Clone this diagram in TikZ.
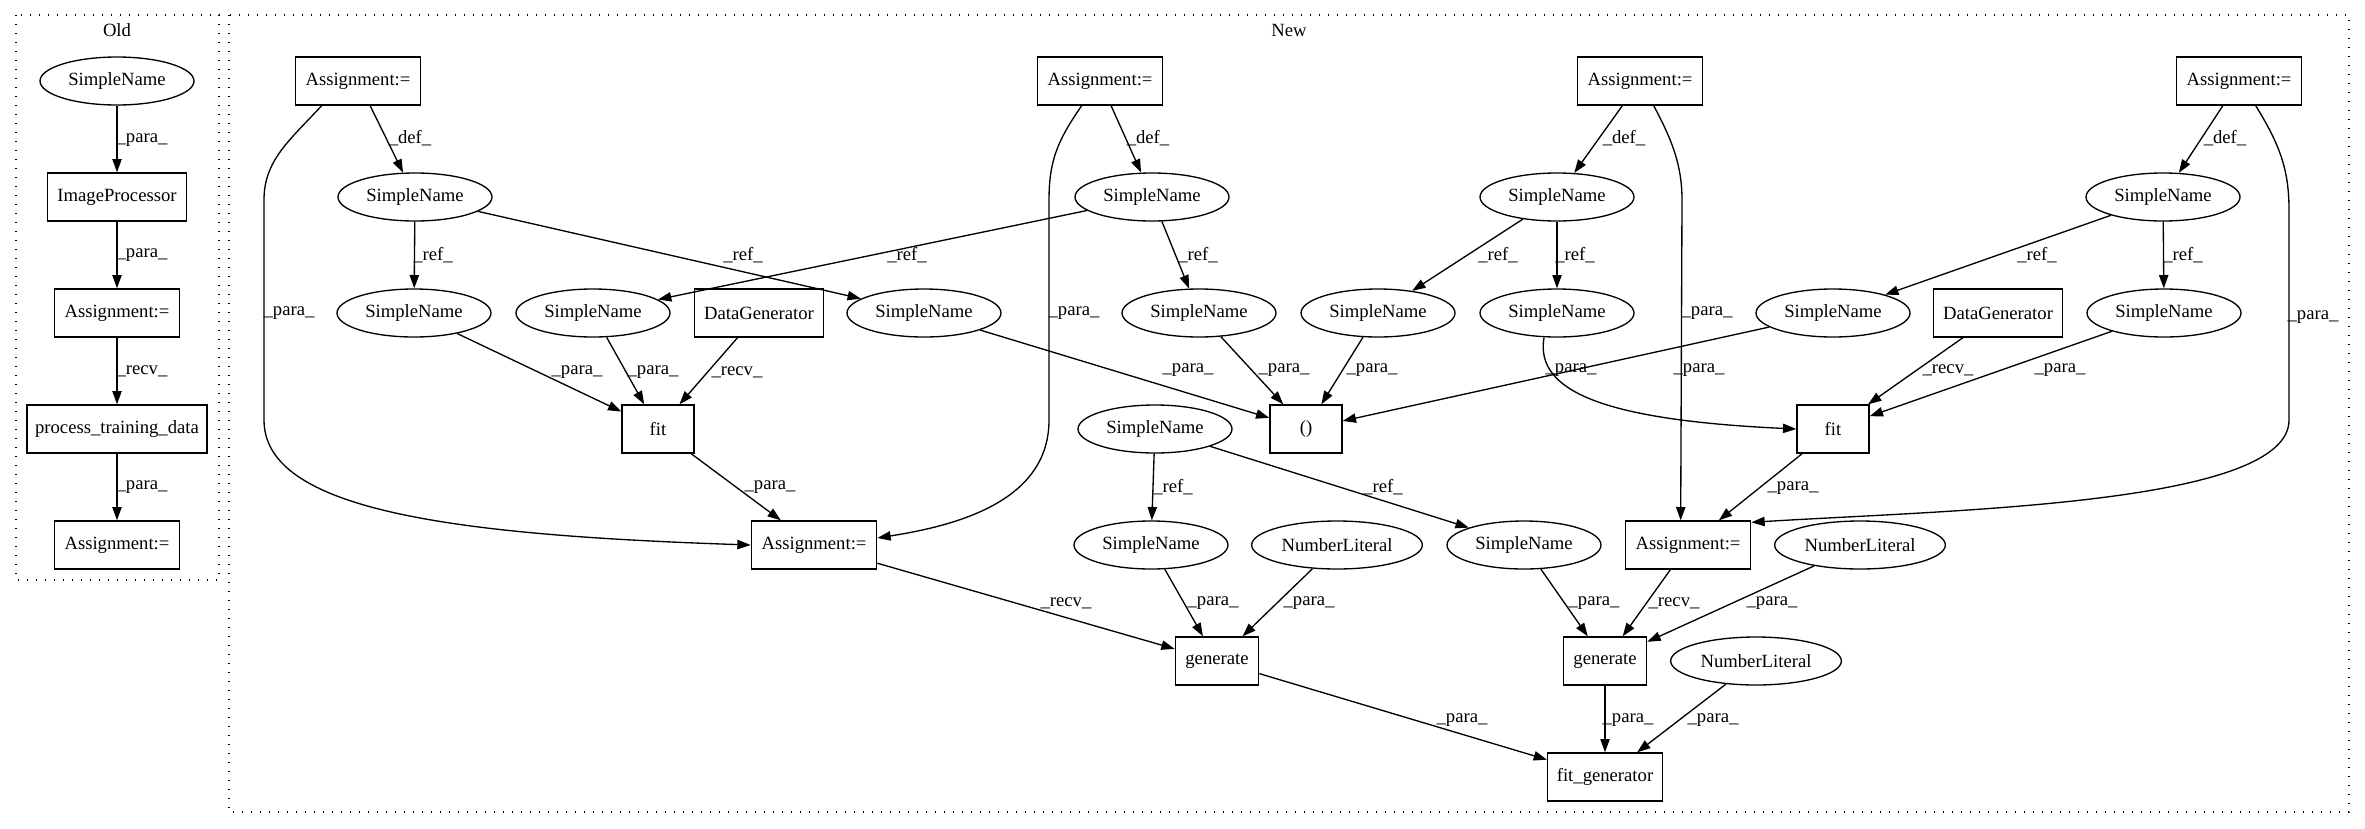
\documentclass[tikz,border=0pt]{standalone}
\usepackage{fontspec}
\setmainfont{Liberation Serif}
\usetikzlibrary{shapes.geometric,arrows.meta}
\begin{document}
\begin{tikzpicture}[x=0.75pt,y=-0.75pt,
  font=\fontsize{14}{16}\selectfont,
  box/.style={draw, rectangle, minimum height=36pt, inner sep=0pt, line width=1pt},
  ell/.style={draw, ellipse, minimum width=115.5pt, minimum height=36pt, inner sep=0pt, line width=1pt},
  nlit/.style={ell, minimum width=128pt},
  arr/.style={-{Triangle[length=10pt,width=7pt]}, line width=1pt},
  lbl/.style={inner sep=0pt},
  cluster/.style={draw, line width=1pt, dash pattern=on 1pt off 5.75pt}]
\useasboundingbox (0,0) rectangle (2365,828);
% clusters
\draw[cluster] (16,15) rectangle (219,580);
\draw[cluster] (229,15) rectangle (2349,812);
\node[lbl] (tOld) at (117,30) {Old};
\node[lbl] (tNew) at (1289,30) {New};
% Old nodes
\node[ell] (oSN) at (117,81) {SimpleName};
\node[box, minimum width=104pt] (oIP) at (117,197) {ImageProcessor};
\node[box, minimum width=94pt] (oA1) at (117,313) {Assignment:=};
\node[box, minimum width=135pt] (oPTD) at (117,429) {process\_training\_data};
\node[box, minimum width=94pt] (oA2) at (117,545) {Assignment:=};
% New nodes
\node[box, minimum width=94pt] (A1) at (358,81) {Assignment:=};
\node[box, minimum width=94pt] (A2) at (1100,81) {Assignment:=};
\node[box, minimum width=94pt] (A3) at (1640,81) {Assignment:=};
\node[box, minimum width=94pt] (A4) at (2239,81) {Assignment:=};
\node[ell] (S1) at (415,197) {SimpleName};
\node[ell] (S2) at (1152,197) {SimpleName};
\node[ell] (S3) at (1557,197) {SimpleName};
\node[ell] (S4) at (2163,197) {SimpleName};
\node[ell] (S1a) at (414,313) {SimpleName};
\node[ell] (S1b) at (593,313) {SimpleName};
\node[box, minimum width=96.5pt] (DG1) at (759,313) {DataGenerator};
\node[ell] (S1c) at (924,313) {SimpleName};
\node[ell] (S2a) at (1199,313) {SimpleName};
\node[ell] (S3a) at (1378,313) {SimpleName};
\node[ell] (S3b) at (1557,313) {SimpleName};
\node[ell] (S4a) at (1833,313) {SimpleName};
\node[box, minimum width=96.5pt] (DG2) at (1998,313) {DataGenerator};
\node[ell] (S4b) at (2164,313) {SimpleName};
\node[box, minimum width=54pt] (fit1) at (658,429) {fit};
\node[ell] (S5) at (1155,429) {SimpleName};
\node[box, minimum width=54pt] (unit) at (1306,429) {()};
\node[box, minimum width=54pt] (fit2) at (1833,429) {fit};
\node[box, minimum width=94pt] (AL) at (814,545) {Assignment:=};
\node[ell] (S5a) at (1151,545) {SimpleName};
\node[nlit] (NL1) at (1337,545) {NumberLiteral};
\node[ell] (S5b) at (1524,545) {SimpleName};
\node[box, minimum width=94pt] (AR) at (1688,545) {Assignment:=};
\node[nlit] (NL2) at (1860,545) {NumberLiteral};
\node[box, minimum width=62.5pt] (gen1) at (1217,661) {generate};
\node[box, minimum width=62.5pt] (gen2) at (1605,661) {generate};
\node[nlit] (NL3) at (1756,661) {NumberLiteral};
\node[box, minimum width=86pt] (FG) at (1605,777) {fit\_generator};
% Old edges
\draw[arr] (oSN) -- (oIP);
\draw[arr] (oIP) -- (oA1);
\draw[arr] (oA1) -- (oPTD);
\draw[arr] (oPTD) -- (oA2);
\node[lbl] (l1) at (142,140) {\_para\_};
\node[lbl] (l2) at (142,255) {\_para\_};
\node[lbl] (l3) at (142,371) {\_recv\_};
\node[lbl] (l4) at (142,487) {\_para\_};
% New edges: def
\draw[arr] (A1) -- (S1);
\draw[arr] (A2) -- (S2);
\draw[arr] (A3) -- (S3);
\draw[arr] (A4) -- (S4);
\node[lbl] (d1) at (410,138) {\_def\_};
\node[lbl] (d2) at (1148,138) {\_def\_};
\node[lbl] (d3) at (1624,138) {\_def\_};
\node[lbl] (d4) at (2225,138) {\_def\_};
% ref
\draw[arr] (S1) -- (S1a);
\draw[arr] (S1) -- (S1c);
\draw[arr] (S2) -- (S1b);
\draw[arr] (S2) -- (S2a);
\draw[arr] (S3) -- (S3a);
\draw[arr] (S3) -- (S3b);
\draw[arr] (S4) -- (S4a);
\draw[arr] (S4) -- (S4b);
\draw[arr] (S5) -- (S5a);
\draw[arr] (S5) -- (S5b);
\node[lbl] (r1) at (433,255) {\_ref\_};
\node[lbl] (r2) at (743,255) {\_ref\_};
\node[lbl] (r3) at (907,255) {\_ref\_};
\node[lbl] (r4) at (1198,255) {\_ref\_};
\node[lbl] (r5) at (1498,255) {\_ref\_};
\node[lbl] (r6) at (1575,255) {\_ref\_};
\node[lbl] (r7) at (2037,255) {\_ref\_};
\node[lbl] (r8) at (2183,255) {\_ref\_};
\node[lbl] (r9) at (1173,487) {\_ref\_};
\node[lbl] (r10) at (1383,487) {\_ref\_};
% long para curves
\draw[arr] ([xshift=20.25pt]A1.south west) .. controls (290,140) and (264,160) .. (264,200)
  -- (264,420) .. controls (264,510) and (450,535) .. (AL.west);
\draw[arr] ([xshift=33.75pt]A2.south west) .. controls (1058,140) and (1049,160) .. (1049,200)
  -- (1049,420) .. controls (1049,500) and (960,525) .. ([yshift=5.25pt]AL.east);
\draw[arr] ([xshift=57.75pt]A3.south west) .. controls (1672,140) and (1682,165) .. (1682,200)
  -- ([xshift=42pt]AR.north west);
\draw[arr] ([xshift=60pt]A4.south west) .. controls (2280,145) and (2289,170) .. (2289,210)
  -- (2289,420) .. controls (2289,505) and (1950,510) .. ([yshift=-1.5pt]AR.north east);
\draw[arr] ([xshift=-9.75pt]S3b.south) .. controls (1535,390) and (1600,420) .. (fit2.west);
\node[lbl] (p1) at (289,313) {\_para\_};
\node[lbl] (p2) at (1074,313) {\_para\_};
\node[lbl] (p3) at (1707,313) {\_para\_};
\node[lbl] (p4) at (2313,317) {\_para\_};
\node[lbl] (p5) at (1571,370) {\_para\_};
% fit1 inputs
\draw[arr] (S1a) -- (fit1);
\draw[arr] (S1b) -- (fit1);
\draw[arr] (DG1) -- (fit1);
\node[lbl] (p6) at (577,372) {\_para\_};
\node[lbl] (p7) at (653,372) {\_para\_};
\node[lbl] (p8) at (737,372) {\_recv\_};
% () inputs
\draw[arr] (S1c) -- (unit);
\draw[arr] (S2a) -- (unit);
\draw[arr] (S3a) -- (unit);
\draw[arr] (S4a) -- (unit);
\node[lbl] (p9) at (1188,370) {\_para\_};
\node[lbl] (p10) at (1284,370) {\_para\_};
\node[lbl] (p11) at (1372,370) {\_para\_};
\node[lbl] (p12) at (1699,370) {\_para\_};
% fit2 inputs
\draw[arr] (DG2) -- (fit2);
\draw[arr] (S4b) -- (fit2);
\node[lbl] (p13) at (1948,370) {\_recv\_};
\node[lbl] (p14) at (2060,370) {\_para\_};
% fits to assignments
\draw[arr] (fit1) -- (AL);
\draw[arr] (fit2) -- (AR);
\node[lbl] (p15) at (770,487) {\_para\_};
\node[lbl] (p16) at (1793,488) {\_para\_};
% generate inputs
\draw[arr] (AL) -- (gen1);
\draw[arr] (S5a) -- (gen1);
\draw[arr] (NL1) -- (gen1);
\draw[arr] (S5b) -- (gen2);
\draw[arr] (AR) -- (gen2);
\draw[arr] (NL2) -- (gen2);
\node[lbl] (p17) at (1066,603) {\_recv\_};
\node[lbl] (p18) at (1213,603) {\_para\_};
\node[lbl] (p19) at (1309,603) {\_para\_};
\node[lbl] (p20) at (1594,603) {\_para\_};
\node[lbl] (p21) at (1674,603) {\_recv\_};
\node[lbl] (p22) at (1772,603) {\_para\_};
% fit_generator inputs
\draw[arr] (gen1) -- (FG);
\draw[arr] (gen2) -- (FG);
\draw[arr] (NL3) -- (FG);
\node[lbl] (p23) at (1462,720) {\_para\_};
\node[lbl] (p24) at (1628,720) {\_para\_};
\node[lbl] (p25) at (1713,720) {\_para\_};
\end{tikzpicture}
\end{document}
